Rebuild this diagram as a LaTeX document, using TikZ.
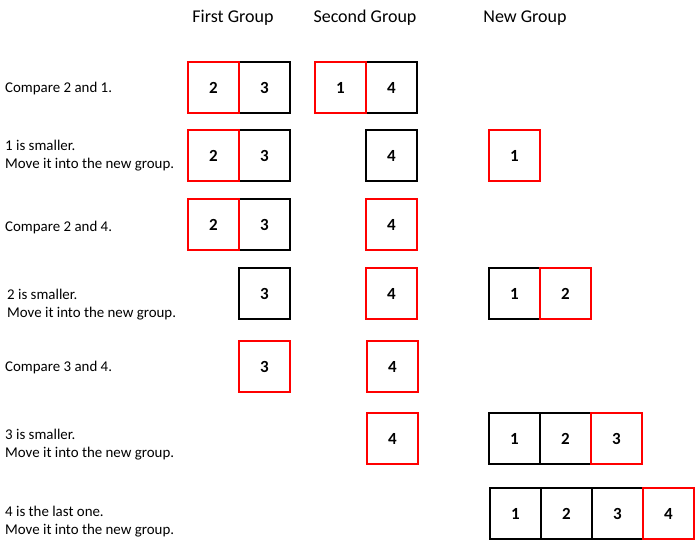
\documentclass[tikz,border=0pt]{standalone}
\usepackage{fontspec}
\setmainfont{Carlito}
\begin{document}
\begin{tikzpicture}[x=1pt,y=-1pt,
  cell/.style={draw=black, line width=2pt, minimum size=51pt, inner sep=0pt, font=\bfseries\fontsize{17}{18}\selectfont},
  hot/.style={cell, draw=red},
  txt/.style={anchor=west, align=left, inner sep=0pt, font=\fontsize{14.9}{18}\selectfont},
  head/.style={inner sep=0pt, font=\fontsize{18}{20}\selectfont}]
\useasboundingbox[fill=white] (0,0) rectangle (700,548);
% headers
\node[head] (h1) at (233,18) {First Group};
\node[head] (h2) at (365,18) {Second Group};
\node[head] (h3) at (525,18) {New Group};
% left texts
\node[txt] (t1) at (5,89) {Compare 2 and 1.};
\node[txt] (t2) at (5,156) {1 is smaller.\\Move it into the new group.};
\node[txt] (t3) at (5,228) {Compare 2 and 4.};
\node[txt] (t4) at (7,305) {2 is smaller.\\Move it into the new group.};
\node[txt] (t5) at (5,368) {Compare 3 and 4.};
\node[txt] (t6) at (5,445) {3 is smaller.\\Move it into the new group.};
\node[txt] (t7) at (5,522) {4 is the last one.\\Move it into the new group.};
% row 1
\node[cell] (r1b) at (264.5,87.5) {3};
\node[cell] (r1d) at (391.5,87.5) {4};
\node[hot] (r1a) at (213.5,87.5) {2};
\node[hot] (r1c) at (340.5,87.5) {1};
% row 2
\node[cell] (r2b) at (264.5,155.5) {3};
\node[cell] (r2d) at (391.5,155.5) {4};
\node[hot] (r2a) at (213.5,155.5) {2};
\node[hot] (r2e) at (514.5,155.5) {1};
% row 3
\node[cell] (r3b) at (264.5,224.5) {3};
\node[hot] (r3a) at (213.5,224.5) {2};
\node[hot] (r3d) at (391.5,224.5) {4};
% row 4
\node[cell] (r4b) at (264.5,293.5) {3};
\node[cell] (r4e) at (514.5,293.5) {1};
\node[hot] (r4d) at (391.5,293.5) {4};
\node[hot] (r4f) at (565.5,293.5) {2};
% row 5
\node[hot] (r5b) at (264.5,366.5) {3};
\node[hot] (r5d) at (392.5,366.5) {4};
% row 6
\node[cell] (r6e) at (514.5,438.5) {1};
\node[cell] (r6f) at (565.5,438.5) {2};
\node[hot] (r6d) at (392.5,438.5) {4};
\node[hot] (r6g) at (616.5,438.5) {3};
% row 7
\node[cell] (r7e) at (515.5,513.5) {1};
\node[cell] (r7f) at (566.5,513.5) {2};
\node[cell] (r7g) at (617.5,513.5) {3};
\node[hot] (r7h) at (668.5,513.5) {4};
\end{tikzpicture}
\end{document}
